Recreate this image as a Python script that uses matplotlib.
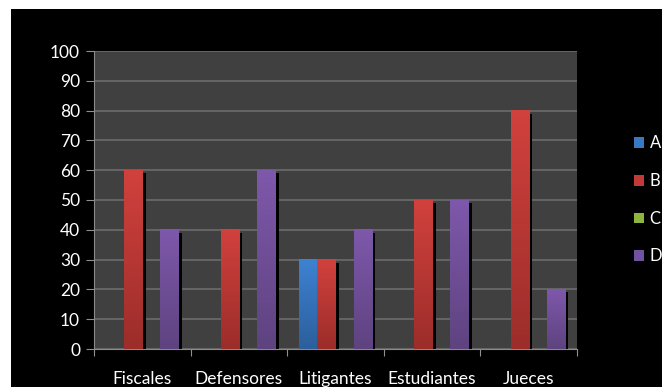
import numpy as np
import matplotlib
matplotlib.use("Agg")
import matplotlib.pyplot as plt
from matplotlib.patches import Rectangle
from matplotlib.colors import LinearSegmentedColormap
import matplotlib.transforms as mtransforms

categories = ["Fiscales", "Defensores", "Litigantes", "Estudiantes", "Jueces"]
series_names = ["A", "B", "C", "D"]
a_vals = [0, 0, 30, 0, 0]
b_vals = [60, 40, 30, 50, 80]
c_vals = [0, 0, 0, 0, 0]
d_vals = [40, 60, 40, 50, 20]
series_vals = [a_vals, b_vals, c_vals, d_vals]

# gradient (top, bottom) per series, plus flat legend colour
grad = [("#3d82d2", "#2c5f9c"), ("#d1413d", "#9c2d2a"),
        ("#9cc84a", "#6f9a30"), ("#7e58ab", "#5e4380")]
legend_cols = ["#3a78c4", "#c23a38", "#8cb43e", "#7053a0"]

plt.rcParams['font.family'] = ['Lato', 'DejaVu Sans']

fig = plt.figure(figsize=(6.62, 3.87), dpi=100)
fig.patch.set_facecolor("white")
fig.patches.append(Rectangle((11 / 662, 0), 1, 1 - 9 / 387, transform=fig.transFigure,
                             facecolor="black", edgecolor="none", zorder=-10))

ax = fig.add_axes([94 / 662, 38 / 387, 483 / 662, 298 / 387])
ax.set_facecolor("#404040")

n = len(categories)
x = np.arange(n)
w = 0.187
ax.set_xlim(-0.5, n - 0.5)
ax.set_ylim(0, 100)

shadow_tf = mtransforms.offset_copy(ax.transData, fig=fig, x=3.5, y=-3, units="dots")
grad_img = np.linspace(0, 1, 64).reshape(-1, 1)

for i, vals in enumerate(series_vals):
    cmap = LinearSegmentedColormap.from_list("g%d" % i, [grad[i][1], grad[i][0]])
    for j, v in enumerate(vals):
        if v <= 0:
            continue
        x0 = x[j] + (i - 1.5) * w - w / 2
        sh = Rectangle((x0, 0), w, v, transform=shadow_tf, facecolor="black",
                       edgecolor="none", zorder=2)
        ax.add_patch(sh)
        ax.imshow(grad_img, extent=[x0, x0 + w, 0, v], origin="lower", cmap=cmap,
                  aspect="auto", zorder=3, interpolation="bilinear")

ax.set_xlim(-0.5, n - 0.5)
ax.set_ylim(0, 100)

ax.set_yticks(range(0, 101, 10))
ax.yaxis.grid(True, color="#707070", linewidth=1.1)
ax.set_axisbelow(True)
ax.set_xticks(np.arange(n + 1) - 0.5)
ax.set_xticklabels([])
ax.set_xticks(x, minor=True)
ax.set_xticklabels(categories, minor=True)
ax.tick_params(axis="x", which="minor", length=0, pad=16, labelsize=12.5, colors="white")
ax.tick_params(axis="x", which="major", length=5, color="#909090")
ax.tick_params(axis="y", length=6, color="#909090", labelsize=12.5, labelcolor="white", pad=4)

for s in ["top", "right"]:
    ax.spines[s].set_visible(False)
for s in ["left", "bottom"]:
    ax.spines[s].set_color("#8a8a8a")

handles = [Rectangle((0, 0), 1, 1, facecolor=c, edgecolor="none") for c in legend_cols]
leg = fig.legend(handles, series_names, loc="center left",
                 bbox_to_anchor=(627 / 662, 1 - 200 / 387), frameon=False,
                 handlelength=0.6, handleheight=0.6, handletextpad=0.35,
                 labelspacing=1.3, fontsize=12, borderaxespad=0)
for t in leg.get_texts():
    t.set_color("white")

plt.savefig("out.png", dpi=100, facecolor=fig.get_facecolor())
